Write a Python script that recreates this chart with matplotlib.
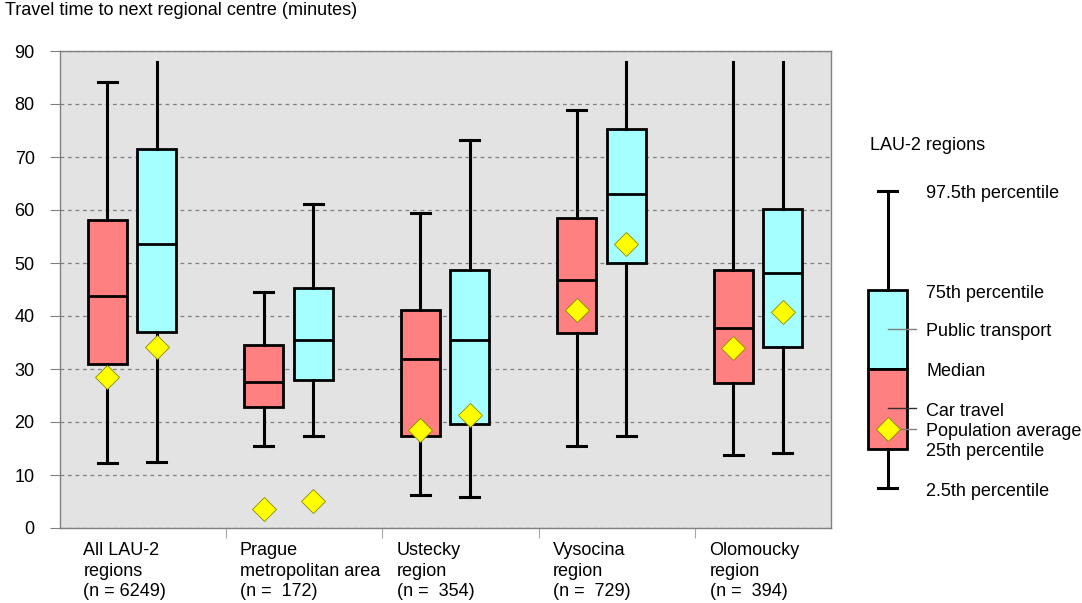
import matplotlib
matplotlib.use("Agg")
import matplotlib.pyplot as plt
from matplotlib.patches import Rectangle
from matplotlib.transforms import blended_transform_factory

plt.rcParams.update({
    "font.family": ["Liberation Sans", "DejaVu Sans"],
    "font.size": 13,
})

# data (minutes)
regions = [
    "All LAU-2\nregions\n(n = 6249)",
    "Prague\nmetropolitan area\n(n =  172)",
    "Ustecky\nregion\n(n =  354)",
    "Vysocina\nregion\n(n =  729)",
    "Olomoucky\nregion\n(n =  394)",
]

car_p025 = [12.3, 15.5, 6.3, 15.4, 13.7]
car_q1 = [30.9, 22.9, 17.4, 36.8, 27.4]
car_med = [43.8, 27.6, 31.9, 46.7, 37.7]
car_q3 = [58.1, 34.5, 41.2, 58.4, 48.6]
car_p975 = [84.1, 44.5, 59.5, 78.9, 88.0]
car_mean = [28.4, 3.6, 18.4, 41.1, 34.0]
car_cut = [False, False, False, False, True]   # 97.5th beyond the axis, no cap

pt_p025 = [12.5, 17.4, 5.8, 17.4, 14.1]
pt_q1 = [37.0, 27.9, 19.7, 50.0, 34.2]
pt_med = [53.6, 35.5, 35.5, 63.0, 48.2]
pt_q3 = [71.5, 45.2, 48.6, 75.2, 60.1]
pt_p975 = [88.0, 61.1, 73.3, 88.0, 88.0]
pt_mean = [34.1, 5.1, 21.3, 53.6, 40.7]
pt_cut = [True, False, False, True, True]

y_ticks = list(range(0, 91, 10))

RED = "#FF8080"
CYAN = "#A6FFFF"
YELLOW = "#FFFF00"
GREY = "#808080"


def make_stats(lo, q1, med, q3, hi, mean):
    return [dict(whislo=a, q1=b, med=c, q3=d, whishi=e, mean=f, fliers=[])
            for a, b, c, d, e, f in zip(lo, q1, med, q3, hi, mean)]


def draw(ax, stats, positions, color, cut):
    res = ax.bxp(
        stats, positions=positions, widths=0.25, capwidths=0.12,
        patch_artist=True, showmeans=True, showfliers=False,
        boxprops=dict(facecolor=color, edgecolor="black", linewidth=2),
        medianprops=dict(color="black", linewidth=2),
        whiskerprops=dict(color="black", linewidth=2.2),
        capprops=dict(color="black", linewidth=2.2),
        meanprops=dict(marker="D", markerfacecolor=YELLOW, markeredgecolor="#8a8a00",
                       markeredgewidth=0.6, markersize=12.5, zorder=5),
    )
    for i, c in enumerate(cut):
        if c:
            res["caps"][2 * i + 1].set_visible(False)


fig = plt.figure(figsize=(10.82, 6.03), dpi=100)
W, H = 1082, 603
ax = fig.add_axes([60 / W, 1 - 528 / H, (831 - 60) / W, (528 - 51) / H])
ax.set_facecolor("#E3E3E3")

n = len(regions)
xs = list(range(n))
draw(ax, make_stats(car_p025, car_q1, car_med, car_q3, car_p975, car_mean),
     [x - 0.158 for x in xs], RED, car_cut)
draw(ax, make_stats(pt_p025, pt_q1, pt_med, pt_q3, pt_p975, pt_mean),
     [x + 0.158 for x in xs], CYAN, pt_cut)

ax.set_xlim(-0.46, 4.466)
ax.set_ylim(0, 90)
ax.set_yticks(y_ticks)
ax.yaxis.grid(True, linestyle=(0, (3, 3)), color=GREY, linewidth=0.9)
ax.set_axisbelow(True)
ax.tick_params(axis="y", direction="out", length=7.2, color=GREY, labelsize=13, pad=11)
ax.set_xticks([x + 0.6 for x in xs[:-1]])
ax.set_xticklabels([])
ax.tick_params(axis="x", direction="out", length=7, color="#A8A8A8")
for s in ax.spines.values():
    s.set_color(GREY)
    s.set_linewidth(1)

trans = blended_transform_factory(ax.transData, ax.transAxes)
for x, lab in zip(xs, regions):
    ax.text(x - 0.31, -0.03, lab, transform=trans, ha="left", va="top",
            fontsize=13, linespacing=1.27)

# overlay in pixel coordinates for title and the explanatory key
ov = fig.add_axes([0, 0, 1, 1])
ov.set_xlim(0, W)
ov.set_ylim(H, 0)
ov.axis("off")
ov.patch.set_visible(False)

ov.text(5, 2, "Travel time to next regional centre (minutes)", ha="left", va="top", fontsize=13)
ov.text(870, 145, "LAU-2 regions", ha="left", va="center", fontsize=13)

kx = 887.5
ov.plot([kx, kx], [191, 290], color="black", lw=2.2)
ov.plot([878, 897], [191, 191], color="black", lw=2.2)
ov.plot([kx, kx], [449, 488], color="black", lw=2.2)
ov.plot([878, 897], [488, 488], color="black", lw=2.2)
ov.add_patch(Rectangle((868, 290), 39, 79, facecolor=CYAN, edgecolor="black", lw=2))
ov.add_patch(Rectangle((868, 369), 39, 80, facecolor=RED, edgecolor="black", lw=2))
ov.plot([888, 916], [329, 329], color=GREY, lw=1)
ov.plot([888, 916], [408, 408], color="#303030", lw=1)
ov.plot([901, 916], [429, 429], color=GREY, lw=1)
ov.plot([888], [429], marker="D", markerfacecolor=YELLOW, markeredgecolor="#8a8a00",
        markeredgewidth=0.6, markersize=12.5)

key_labels = ["97.5th percentile", "75th percentile", "Public transport", "Median",
              "Car travel", "Population average", "25th percentile", "2.5th percentile"]
key_y = [193, 293, 331, 371, 411, 431, 451, 491]
for t, y in zip(key_labels, key_y):
    ov.text(926, y, t, ha="left", va="center", fontsize=13)

fig.savefig("out.png", dpi=100, facecolor="white")
